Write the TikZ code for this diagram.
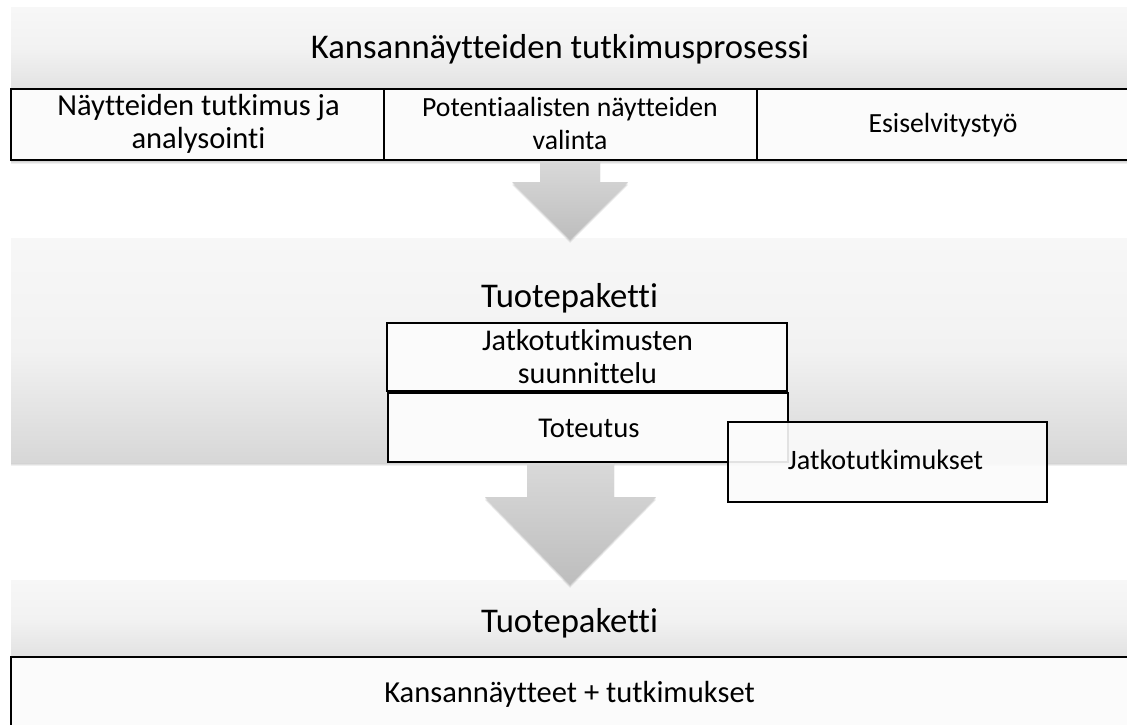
\documentclass[tikz,border=0pt]{standalone}
\usepackage{fontspec}
\setmainfont{Carlito}[Ligatures={NoCommon}]
\usetikzlibrary{calc}

\definecolor{paneltop}{HTML}{F7F7F7}
\definecolor{panelmid}{HTML}{F2F2F2}
\definecolor{panelbot}{HTML}{D7D7D7}
\definecolor{panelbotlight}{HTML}{E2E2E2}
\definecolor{boxfill}{HTML}{FBFBFB}
\definecolor{arrowtop}{HTML}{D9D9D9}
\definecolor{arrowbot}{HTML}{BDBDBD}

\tikzset{
  panel/.style={top color=paneltop, bottom color=panelbot, middle color=panelmid, draw=none},
  panellight/.style={top color=paneltop, bottom color=panelbotlight, middle color=panelmid, draw=none},
  headtext/.style={font=\fontsize{26}{30}\selectfont, inner sep=0pt, anchor=base},
  cell/.style={draw=black, line width=1.1pt, fill=boxfill},
  celltext/.style={font=\fontsize{#1}{24.75}\selectfont, inner sep=0pt, align=center},
  celltext/.default=22,
  blockarrow/.style={top color=arrowtop, bottom color=arrowbot, draw=none},
  softshadow/.style={fill=black, fill opacity=0.06, draw=none},
}

% soft shadow under a rectangle given by its corners (in px)
\newcommand\shadowrect[4]{%
  \foreach \d in {1,2,3,4}{\fill[softshadow] (#1,#2+\d) rectangle (#3,#4+\d);}}

\begin{document}
\begin{tikzpicture}[x=0.75pt,y=-0.75pt]
\useasboundingbox (0,0) rectangle (1127,724);
\fill[white] (0,0) rectangle (1127,724);

% ---------- process panel ----------
\shadowrect{11}{8}{1131}{160}
\shade[panellight] (11,8) rectangle (1131,89);
\node[headtext] (proctitle) at (560,59) {Kansannäytteiden tutkimusprosessi};

\draw[cell] (11,89) rectangle (384,160);
\draw[cell] (384,89) rectangle (757,160);
\draw[cell] (757,89) rectangle (1131,160);
\node[celltext=22.9] (analysis) at (198.5,124) {Näytteiden tutkimus ja\\analysointi};
\node[celltext=20.8] (selection) at (570,123) {Potentiaalisten näytteiden\\valinta};
\node[celltext=20.8, anchor=base] (prestudy) at (943,132) {Esiselvitystyö};

% ---------- first product package ----------
\shadowrect{11}{238}{1131}{462}
\shade[panel] (11,238) rectangle (1131,462);
\node[headtext] (pkgone) at (569.5,307) {Tuotepaketti};

\draw[cell] (387,323) rectangle (787,391);
\node[celltext=22.6] (planning) at (587.5,357) {Jatkotutkimusten\\suunnittelu};
\draw[cell] (388,393) rectangle (788,462);
\node[celltext=21.5, anchor=base] (impl) at (589,437) {Toteutus};
\draw[cell, fill opacity=0.9] (728,422) rectangle (1047,502);
\node[celltext=21.1, anchor=base] (further) at (885.5,469) {Jatkotutkimukset};

% ---------- final product package ----------
\shadowrect{11}{580}{1131}{730}
\shade[panellight] (11,580) rectangle (1131,657);
\node[headtext] (pkgtwo) at (569.5,632) {Tuotepaketti};
\draw[cell] (11,657) rectangle (1131,730);
\node[celltext=22.9, anchor=base] (result) at (569.5,702) {Kansannäytteet + tutkimukset};

% ---------- block arrows ----------
\foreach \d in {1,2,3}{
  \fill[softshadow] (540,160+\d) -- (600,160+\d) -- (600,182+\d) -- (628,182+\d)
    -- (570,240+\d) -- (512,182+\d) -- (540,182+\d) -- cycle;
  \fill[softshadow] (527,462+\d) -- (614,462+\d) -- (614,497+\d) -- (656,497+\d)
    -- (570,585+\d) -- (485,497+\d) -- (527,497+\d) -- cycle;
}
\shade[blockarrow] (540,161) -- (600,161) -- (600,182) -- (628,182) -- (570,240)
  -- (512,182) -- (540,182) -- cycle;
\shade[blockarrow] (527,463) -- (614,463) -- (614,497) -- (656,497) -- (570,585)
  -- (485,497) -- (527,497) -- cycle;
\end{tikzpicture}
\end{document}
